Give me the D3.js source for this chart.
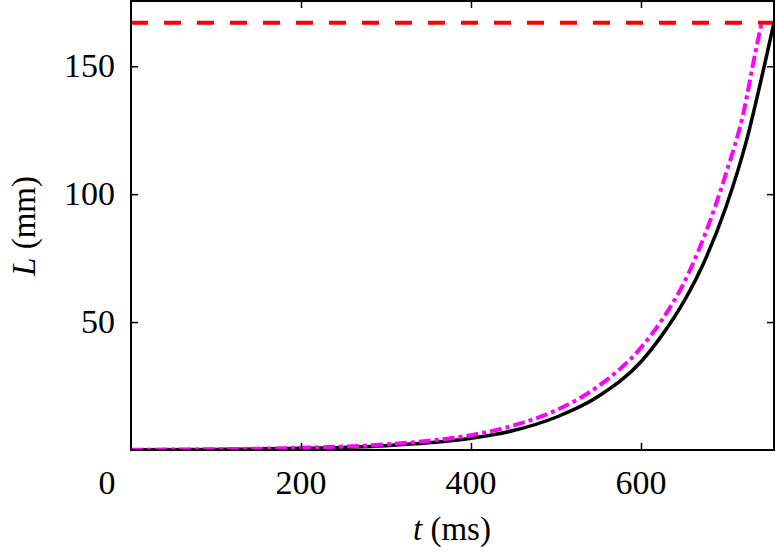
<!DOCTYPE html>
<head>
  <style>
    body { margin: 0; background: #fff; }
  </style>
  <title>L vs t</title>
</head>
<body>
  <script type="text/javascript" src="https://cdn.jsdelivr.net/npm/d3@7/dist/d3.min.js"></script>
  <script type="text/javascript">
    // data
    var tBlack = [0, 100, 200, 300, 350, 400, 450, 500, 550, 600, 625, 650, 675, 700, 725, 745, 756.5];
    var lBlack = [0.09, 0.24, 0.64, 1.7, 2.8, 4.6, 7.6, 12.8, 21, 34.5, 45, 57.8, 74, 95, 122, 150, 167];
    var tMagenta = [0, 100, 200, 300, 350, 400, 450, 500, 550, 600, 625, 650, 675, 700, 720, 735, 742];
    var lMagenta = [0.1, 0.3, 0.85, 2.2, 3.6, 5.8, 9.6, 15.5, 25, 40, 51, 65, 84, 108, 131, 156, 167];
    var lLimit = 167;
    var xTicks = [0, 200, 400, 600];
    var yTicks = [50, 100, 150];

    var FONT = "'Liberation Serif', 'Times New Roman', Times, serif";
    var w = 776, h = 554;
    var margin = {top: 1, right: 2, bottom: 104, left: 131};

    var x = d3.scaleLinear().domain([0, 756.5]).range([margin.left, w - margin.right]);
    var y = d3.scaleLinear().domain([0, 175.5]).range([h - margin.bottom, margin.top]);

    var svg = d3.select("body").append("svg")
                .attr("width", w)
                .attr("height", h)
                .style("font-family", FONT);

    svg.append("clipPath").attr("id", "clip")
       .append("rect")
       .attr("x", x.range()[0]).attr("y", y.range()[1])
       .attr("width", x.range()[1] - x.range()[0])
       .attr("height", y.range()[0] - y.range()[1]);

    var plot = svg.append("g").attr("clip-path", "url(#clip)");

    var line = d3.line()
                 .x(function(d) { return x(d[0]); })
                 .y(function(d) { return y(d[1]); })
                 .curve(d3.curveMonotoneX);

    // red dashed limit
    plot.append("line")
        .attr("x1", x.range()[0]).attr("x2", x.range()[1])
        .attr("y1", y(lLimit)).attr("y2", y(lLimit))
        .attr("stroke", "#ff0000")
        .attr("stroke-width", 4)
        .attr("stroke-dasharray", "17,16");

    // black solid
    plot.append("path")
        .datum(d3.zip(tBlack, lBlack))
        .attr("d", line)
        .attr("fill", "none")
        .attr("stroke", "#000")
        .attr("stroke-width", 3.5);

    // magenta dash-dot
    plot.append("path")
        .datum(d3.zip(tMagenta, lMagenta))
        .attr("d", line)
        .attr("fill", "none")
        .attr("stroke", "#ff00ff")
        .attr("stroke-width", 4)
        .attr("stroke-dasharray", "12,4,4,4");

    // axes with inward ticks on all sides
    var tick = 7;
    svg.append("g")
       .attr("transform", "translate(0," + y.range()[0] + ")")
       .call(d3.axisBottom(x).tickValues(xTicks.slice(1)).tickSize(-tick).tickFormat(""));
    svg.append("g")
       .attr("transform", "translate(0," + y.range()[1] + ")")
       .call(d3.axisTop(x).tickValues(xTicks.slice(1)).tickSize(-tick).tickFormat(""));
    svg.append("g")
       .attr("transform", "translate(" + x.range()[0] + ",0)")
       .call(d3.axisLeft(y).tickValues(yTicks).tickSize(-tick).tickFormat(""));
    svg.append("g")
       .attr("transform", "translate(" + x.range()[1] + ",0)")
       .call(d3.axisRight(y).tickValues(yTicks).tickSize(-tick).tickFormat(""));
    svg.selectAll(".domain").remove();
    svg.selectAll(".tick line").attr("stroke", "#000").attr("stroke-width", 1.5);

    // frame
    svg.append("rect")
       .attr("x", x.range()[0]).attr("y", y.range()[1])
       .attr("width", x.range()[1] - x.range()[0])
       .attr("height", y.range()[0] - y.range()[1])
       .attr("fill", "none")
       .attr("stroke", "#000")
       .attr("stroke-width", 2);

    // tick labels
    svg.append("g").selectAll("text")
       .data(xTicks)
       .enter().append("text")
       .attr("x", function(d) { return d === 0 ? x(d) - 24 : x(d); })
       .attr("y", 494)
       .attr("text-anchor", "middle")
       .attr("font-family", FONT)
       .attr("font-size", 34)
       .text(function(d) { return d; });

    svg.append("g").selectAll("text")
       .data(yTicks)
       .enter().append("text")
       .attr("x", x.range()[0] - 16)
       .attr("y", function(d) { return y(d) + 11; })
       .attr("text-anchor", "end")
       .attr("font-family", FONT)
       .attr("font-size", 34)
       .text(function(d) { return d; });

    // axis labels
    var xl = svg.append("text")
       .attr("x", 452).attr("y", 540)
       .attr("text-anchor", "middle")
       .attr("font-family", FONT)
       .attr("font-size", 33);
    xl.append("tspan").attr("font-style", "italic").text("t");
    xl.append("tspan").text(" (ms)");

    var yl = svg.append("text")
       .attr("transform", "translate(35,226) rotate(-90)")
       .attr("text-anchor", "middle")
       .attr("font-family", FONT)
       .attr("font-size", 33);
    yl.append("tspan").attr("font-style", "italic").text("L");
    yl.append("tspan").text(" (mm)");
  </script>
</body>
